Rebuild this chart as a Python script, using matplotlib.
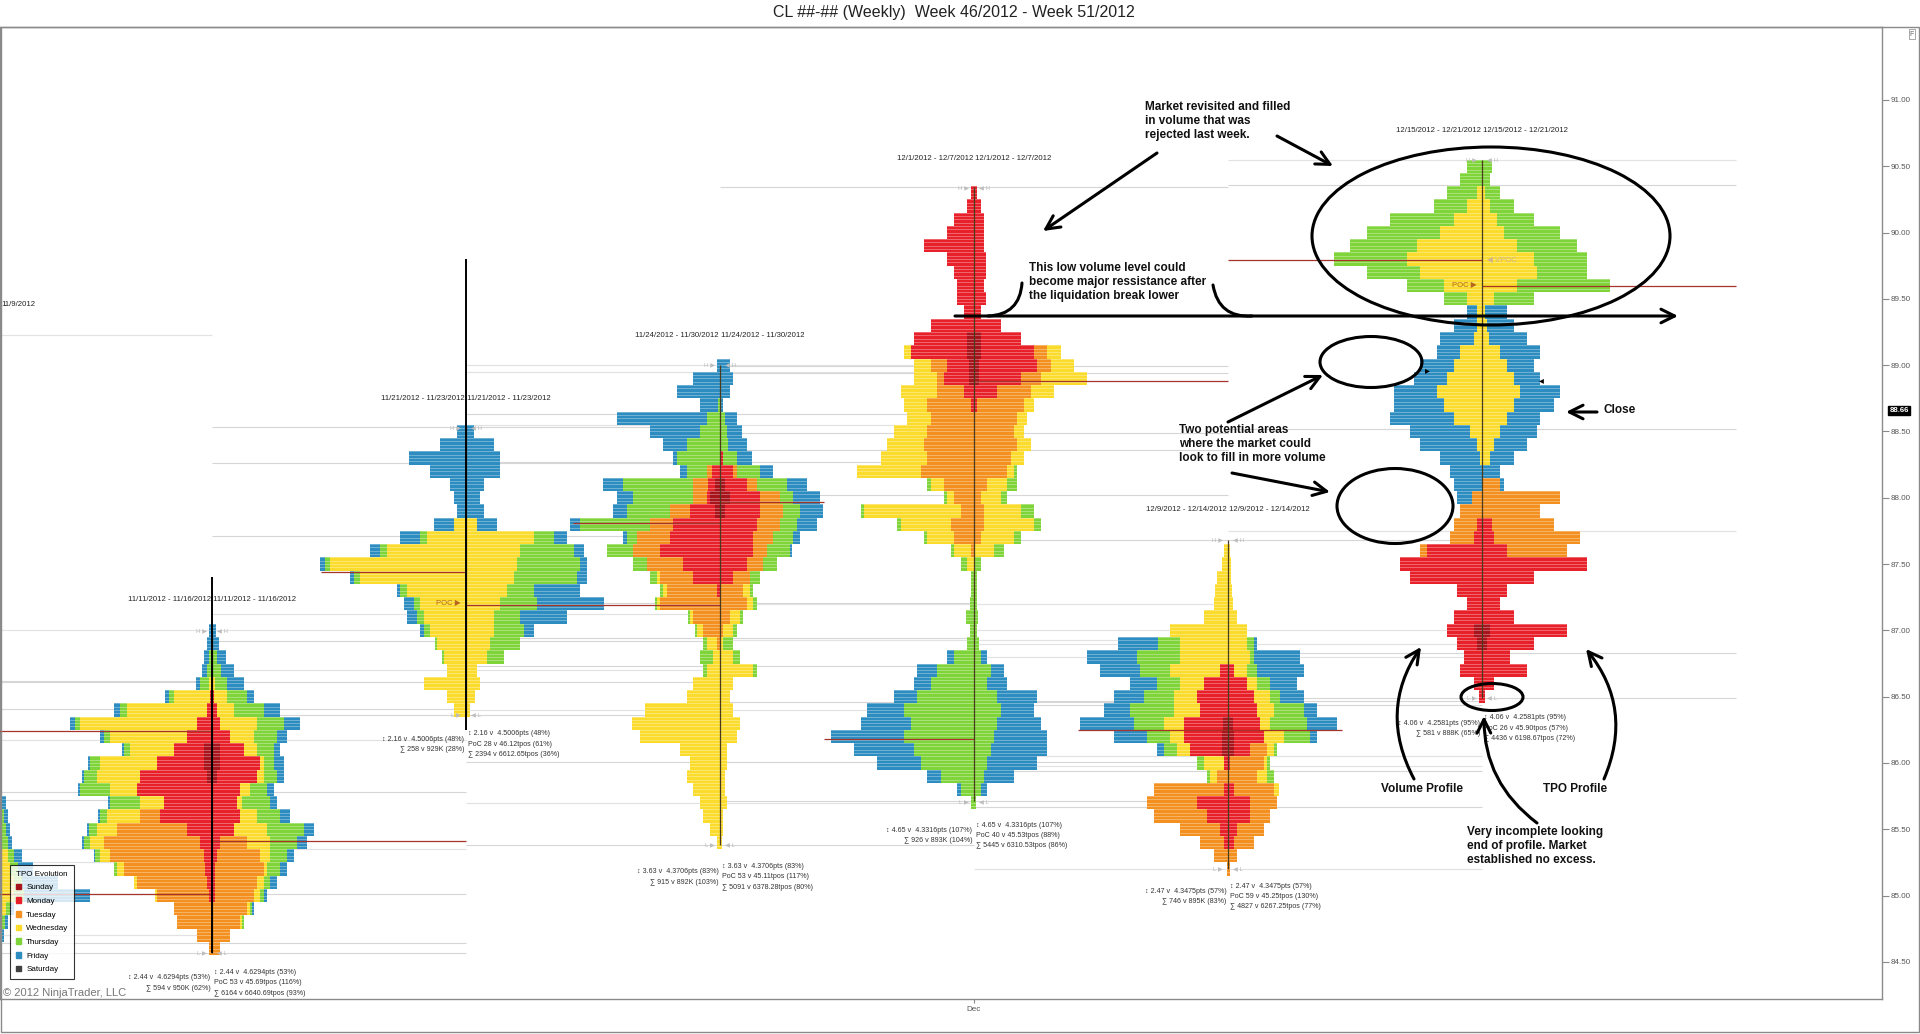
import numpy as np
import matplotlib
matplotlib.use('Agg')
import matplotlib.pyplot as plt
from matplotlib.patches import Patch, Ellipse, Rectangle
from matplotlib.transforms import blended_transform_factory

plt.rcParams['font.family'] = ['Liberation Sans', 'DejaVu Sans']

title = 'CL ##-## (Weekly)  Week 46/2012 - Week 51/2012'
day_names = ['Sunday', 'Monday', 'Tuesday', 'Wednesday', 'Thursday', 'Friday', 'Saturday']
day_colors = ['#a8141c', '#e8202a', '#f39020', '#fbdc2c', '#7fd43a', '#2d8dc0', '#404040']

price_ticks = [84.5, 85.0, 85.5, 86.0, 86.5, 87.0, 87.5, 88.0, 88.5, 89.0, 89.5, 90.0, 90.5, 91.0]
last_price = 88.66
px_per_week = 254   # profile widths in pixels

# weekly profiles: one row per 0.10, top row first
# each row = cumulative width Sunday..Friday, volume side (left) and TPO side (right)
p0_top = 85.7
p0_tpo = [(0,0,0,0,44,48), (0,0,0,0,46,50), (0,0,0,44,48,52), (0,0,0,44,50,54),
          (0,0,0,50,56,64), (0,0,0,52,60,75), (0,0,0,56,64,100), (0,0,0,56,66,132),
          (0,0,0,48,52,56), (0,0,0,44,47,50), (0,0,0,42,44,46)]

p1_top = 87.0
p1_vol = [(0,0,0,0,0,3), (0,0,0,0,0,5), (0,0,0,0,3,8), (0,0,0,0,5,10), (0,0,0,3,12,16),
          (0,2,2,38,43,47), (0,5,5,85,92,98), (0,15,15,132,137,142), (0,25,25,102,108,112),
          (8,38,38,82,88,90), (8,55,55,112,122,124), (5,72,72,115,128,130), (0,75,75,102,132,134),
          (0,48,48,72,102,104), (0,52,72,105,112,114), (0,25,95,115,123,125), (0,12,108,122,128,130),
          (0,8,102,112,117,118), (0,7,88,95,98,98), (0,5,75,78,78,78), (0,3,55,57,57,57),
          (0,0,38,38,38,38), (0,0,35,35,35,35), (0,0,15,15,15,15), (0,0,3,3,3,3)]
p1_tpo = [(0,0,0,0,0,4), (0,0,0,0,0,7), (0,0,0,0,5,14), (0,0,0,0,9,22), (0,0,0,3,15,32),
          (0,2,2,15,35,42), (0,5,5,22,52,68), (0,8,8,45,72,88), (0,18,18,42,65,75),
          (8,32,32,45,62,68), (8,48,48,52,62,72), (5,45,45,52,65,72), (0,28,28,38,55,62),
          (0,25,25,30,58,65), (0,28,28,45,68,78), (0,22,22,55,92,102), (0,8,35,58,85,95),
          (0,5,48,58,75,82), (0,3,52,55,68,75), (0,3,45,52,58,65), (0,3,42,48,52,55),
          (0,0,35,38,40,42), (0,0,28,30,32,32), (0,0,18,18,18,18), (0,0,8,8,8,8)]

p2_top = 88.5
p2_vol = [(0,0,0,0,0,9), (0,0,0,0,0,26), (0,0,0,0,0,57), (0,0,0,0,0,36), (0,0,0,0,0,16),
          (0,0,0,0,0,12), (0,0,0,0,0,9), (0,0,0,12,12,32), (0,0,0,39,46,66), (0,0,0,79,86,96),
          (0,0,0,136,141,146), (0,0,0,106,112,116), (0,0,0,59,66,69), (0,0,0,46,52,62),
          (0,0,0,42,49,59), (0,0,0,36,42,46), (0,0,0,29,31,31), (0,0,0,22,24,24),
          (0,0,0,19,19,19), (0,0,0,42,42,42), (0,0,0,19,19,19), (0,0,0,12,12,12)]
p2_tpo = [(0,0,0,0,0,8), (0,0,0,0,0,28), (0,0,0,0,0,34), (0,0,0,0,0,34), (0,0,0,0,0,18),
          (0,0,0,0,0,14), (0,0,0,0,0,18), (0,0,0,11,11,31), (0,0,0,68,88,101), (0,0,0,54,108,118),
          (0,0,0,51,114,121), (0,0,0,48,111,121), (0,0,0,41,68,114), (0,0,0,34,71,138),
          (0,0,0,28,54,101), (0,0,0,28,58,68), (0,0,0,24,54,54), (0,0,0,21,38,38),
          (0,0,0,11,11,11), (0,0,0,14,14,14), (0,0,0,9,9,9), (0,0,0,4,4,4)]

p3_top = 89.0
p3_vol = [(0,0,0,0,0,3), (0,0,0,0,0,27), (0,0,0,0,0,43), (0,0,0,0,2,20), (0,0,0,0,13,103),
          (0,0,0,0,20,70), (0,0,0,0,33,57), (0,0,0,0,43,47), (0,8,13,13,33,40),
          (5,12,27,27,97,117), (10,13,27,27,87,103), (5,30,50,50,93,107), (0,47,70,70,140,150),
          (0,50,83,83,93,97), (0,60,87,87,113,113), (0,37,73,73,87,87), (0,27,60,63,70,70),
          (0,3,53,57,60,60), (0,0,60,63,65,65), (0,0,27,30,32,32), (0,0,17,23,25,25),
          (0,0,3,13,17,17), (0,0,0,7,20,20), (0,0,0,13,17,17), (0,0,0,27,27,27),
          (0,0,0,33,33,33), (0,0,0,75,75,75), (0,0,0,88,88,88), (0,0,0,80,80,80),
          (0,0,0,40,40,40), (0,0,0,30,30,30), (0,0,0,33,33,33), (0,0,0,27,27,27),
          (0,0,0,20,20,20), (0,0,0,17,17,17), (0,0,0,10,10,10), (0,0,0,3,3,3)]
p3_tpo = [(0,0,0,0,0,10), (0,0,0,0,0,13), (0,0,0,0,0,10), (0,0,0,0,0,3), (0,0,0,0,5,17),
          (0,0,0,0,7,22), (0,0,0,0,8,27), (0,3,3,3,17,32), (0,13,17,17,40,53),
          (5,27,37,37,67,87), (10,40,60,60,73,100), (5,40,63,63,80,103), (0,37,60,60,77,97),
          (0,33,53,53,73,80), (0,33,47,47,70,72), (0,27,43,43,57,57), (0,13,30,30,40,40),
          (0,0,23,30,33,33), (0,0,27,33,37,37), (0,0,10,20,23,23), (0,0,3,13,17,17),
          (0,0,0,3,13,13), (0,0,0,13,20,20), (0,0,0,33,37,37), (0,0,0,13,13,13),
          (0,0,0,10,10,10), (0,0,0,13,13,13), (0,0,0,20,20,20), (0,0,0,17,17,17),
          (0,0,0,7,7,7), (0,0,0,7,7,7), (0,0,0,5,5,5), (0,0,0,5,5,5),
          (0,0,0,7,7,7), (0,0,0,3,3,3), (0,0,0,3,3,3), (0,0,0,2,2,2)]

p4_top = 90.3
p4_vol = [(0,3,3,3,3,3), (0,7,7,7,7,7), (0,20,20,20,20,20), (0,27,27,27,27,27), (0,50,50,50,50,50),
          (0,27,27,27,27,27), (0,20,20,20,20,20), (0,17,17,17,17,17), (0,17,17,17,17,17),
          (0,10,10,10,10,10), (0,43,43,43,43,43), (7,60,60,60,60,60), (7,63,63,70,70,70),
          (5,27,43,60,60,60), (5,30,37,60,60,60), (0,10,37,73,73,73), (0,3,47,70,70,70),
          (0,0,43,67,67,67), (0,0,47,80,80,80), (0,0,50,87,87,87), (0,0,47,93,93,93),
          (0,0,53,117,117,117), (0,0,30,43,47,47), (0,0,20,27,30,30), (0,0,13,110,113,113),
          (0,0,23,73,77,77), (0,0,20,47,50,50), (0,0,3,20,23,23), (0,0,0,7,13,13),
          (0,0,0,0,3,3), (0,0,0,0,3,3), (0,0,0,0,4,4), (0,0,0,0,8,8), (0,0,0,0,4,4),
          (0,0,0,0,7,7), (0,0,0,0,20,27), (0,0,0,0,37,57), (0,0,0,0,43,60), (0,0,0,0,57,80),
          (0,0,0,0,70,107), (0,0,0,0,63,113), (0,0,0,0,70,143), (0,0,0,0,60,120),
          (0,0,0,0,53,97), (0,0,0,0,33,47), (0,0,0,0,13,17), (0,0,0,0,3,3)]
p4_tpo = [(0,3,3,3,3,3), (0,7,7,7,7,7), (0,10,10,10,10,10), (0,10,10,10,10,10), (0,10,10,10,10,10),
          (0,12,12,12,12,12), (0,12,12,12,12,12), (0,10,10,10,10,10), (0,12,12,12,12,12),
          (0,7,7,7,7,7), (0,27,27,27,27,27), (7,47,47,47,47,47), (7,60,73,87,87,87),
          (5,63,77,100,100,100), (5,47,67,113,113,113), (0,23,57,80,80,80), (0,3,50,60,60,60),
          (0,0,43,53,53,53), (0,0,40,50,50,50), (0,0,43,57,57,57), (0,0,37,50,50,50),
          (0,0,33,40,43,43), (0,0,13,33,43,43), (0,0,7,27,33,33), (0,0,10,47,60,60),
          (0,0,10,60,67,67), (0,0,7,40,47,47), (0,0,0,20,30,30), (0,0,0,0,7,7),
          (0,0,0,0,3,3), (0,0,0,0,3,3), (0,0,0,0,3,3), (0,0,0,0,4,4), (0,0,0,0,3,3),
          (0,0,0,0,5,5), (0,0,0,0,7,13), (0,0,0,0,17,30), (0,0,0,0,13,33), (0,0,0,0,23,63),
          (0,0,0,0,27,60), (0,0,0,0,23,67), (0,0,0,0,20,73), (0,0,0,0,17,73),
          (0,0,0,0,13,63), (0,0,0,0,10,40), (0,0,0,0,7,13), (0,0,0,0,2,2)]

p5_top = 87.6
p5_vol = [(0,0,0,4,4,4), (0,0,0,6,6,6), (0,0,0,11,11,11), (0,0,0,13,13,13), (0,0,0,14,14,14),
          (0,0,0,24,24,24), (0,0,0,58,58,58), (0,0,0,48,70,110), (0,0,0,48,91,141),
          (0,8,8,58,88,128), (0,24,24,48,71,98), (0,31,31,54,84,114), (0,28,28,54,98,124),
          (5,44,44,64,94,148), (6,44,44,58,81,114), (6,38,38,51,64,71), (0,4,4,24,31,31),
          (0,0,11,18,21,21), (0,4,74,74,74,74), (0,31,81,81,81,81), (0,21,74,74,74,74),
          (0,8,48,48,48,48), (0,4,28,28,28,28), (0,0,14,14,14,14), (0,0,1,1,1,1)]
p5_tpo = [(0,0,0,2,2,2), (0,0,0,3,3,3), (0,0,0,3,3,3), (0,0,0,4,4,4), (0,0,0,5,5,5),
          (0,0,0,9,9,9), (0,0,0,19,19,19), (0,0,0,19,26,29), (0,0,0,22,26,72),
          (0,6,6,19,29,76), (0,19,19,29,42,69), (0,26,26,42,52,76), (0,29,29,46,76,89),
          (5,32,32,42,79,109), (6,36,36,56,82,89), (6,22,39,46,49,49), (0,2,36,39,42,42),
          (0,0,29,39,46,46), (0,6,46,51,51,51), (0,22,49,49,49,49), (0,22,42,42,42,42),
          (0,9,36,36,36,36), (0,6,26,26,26,26), (0,0,9,9,9,9), (0,0,2,2,2,2)]

p6_top = 90.5
p6_vol = [(0,0,0,0,15,15), (0,0,0,0,22,22), (0,0,0,5,35,35), (0,0,0,15,48,48), (0,0,0,28,92,92),
          (0,0,0,42,115,115), (0,0,0,65,132,132), (0,0,0,75,148,148), (0,0,0,62,115,115),
          (0,0,0,38,75,75), (0,0,0,15,38,38), (0,0,0,5,5,15), (0,0,0,5,5,28), (0,0,0,8,8,42),
          (0,0,0,22,22,45), (0,0,0,28,28,62), (0,0,0,35,35,68), (0,0,0,45,45,88),
          (0,0,0,38,38,88), (0,0,0,28,28,92), (0,0,0,12,12,72), (0,0,0,5,5,62),
          (0,0,0,2,2,42), (0,0,0,0,0,32), (0,0,0,0,0,28), (0,0,10,10,10,25),
          (0,0,22,22,22,22), (0,5,28,28,28,28), (0,8,32,32,32,32), (0,55,62,62,62,62),
          (0,82,82,82,82,82), (0,72,72,72,72,72), (0,25,25,25,25,25), (0,15,15,15,15,15),
          (0,28,28,28,28,28), (8,35,35,35,35,35), (5,25,25,25,25,25), (0,18,18,18,18,18),
          (0,22,22,22,22,22), (0,8,8,8,8,8), (0,3,3,3,3,3)]
p6_tpo = [(0,0,0,0,10,10), (0,0,0,0,8,8), (0,0,0,3,18,18), (0,0,0,8,32,32), (0,0,0,15,52,52),
          (0,0,0,22,78,78), (0,0,0,35,95,95), (0,0,0,52,105,105), (0,0,0,55,105,105),
          (0,0,0,35,128,128), (0,0,0,12,52,52), (0,0,0,3,3,25), (0,0,0,5,5,32), (0,0,0,7,7,45),
          (0,0,0,18,18,58), (0,0,0,25,25,52), (0,0,0,32,32,58), (0,0,0,38,38,78),
          (0,0,0,32,32,72), (0,0,0,25,25,58), (0,0,0,18,18,55), (0,0,0,12,12,45),
          (0,0,0,8,8,32), (0,0,0,0,0,18), (0,0,18,18,18,22), (0,0,78,78,78,78),
          (0,0,58,58,58,58), (0,10,72,72,72,72), (0,12,98,98,98,98), (0,25,85,85,85,85),
          (0,105,105,105,105,105), (0,52,52,52,52,52), (0,25,25,25,25,25), (0,18,18,18,18,18),
          (0,32,32,32,32,32), (8,85,85,85,85,85), (5,52,52,52,52,52), (0,28,28,28,28,28),
          (0,45,45,45,45,45), (0,12,12,12,12,12), (0,3,3,3,3,3)]

# week slots (11/4 week is -1, only its right edge is on screen)
centers = [-1, 0, 1, 2, 3, 4, 5]
tops = [p0_top, p1_top, p2_top, p3_top, p4_top, p5_top, p6_top]
vols = [None, p1_vol, p2_vol, p3_vol, p4_vol, p5_vol, p6_vol]
tpos = [p0_tpo, p1_tpo, p2_tpo, p3_tpo, p4_tpo, p5_tpo, p6_tpo]
highs = [89.23, 87.00, 88.53, 89.00, 90.34, 87.68, 90.55]
lows = [84.70, 84.57, 86.36, 85.38, 85.71, 85.20, 86.49]
bar_tops = [None, 87.40, 89.80, None, None, None, None]
bar_lows = [None, 84.57, 86.25, None, None, None, None]

ranges = ['11/9/2012', '11/11/2012 - 11/16/2012', '11/21/2012 - 11/23/2012',
          '11/24/2012 - 11/30/2012', '12/1/2012 - 12/7/2012', '12/9/2012 - 12/14/2012',
          '12/15/2012 - 12/21/2012']
range_y = [89.46, 87.23, 88.75, 89.22, 90.56, 87.91, 90.77]

levels = [
    [89.23, 86.62, 85.72, 85.25, 84.70],
    [87.00, 86.61, 86.41, 86.17, 85.78, 85.35, 85.01, 84.64, 84.57],
    [88.53, 88.26, 87.71, 87.12, 86.92, 86.70, 86.61, 86.36],
    [89.00, 88.95, 88.63, 88.55, 88.27, 87.21, 86.94, 86.73, 86.40, 86.01, 85.70, 85.38],
    [90.34, 88.99, 88.94, 88.49, 88.36, 88.02, 87.20, 86.93, 86.46, 86.01, 85.71],
    [87.68, 87.00, 86.90, 86.80, 86.47, 86.44, 86.05, 85.98, 85.94, 85.67, 85.20],
    [90.55, 90.36, 88.52, 87.75, 86.83, 86.49],
]
# (price, from week, to week)
poc_lines = [(85.01, -1, 0), (86.24, -1, 0), (85.41, 0, 1), (87.44, 0.43, 1), (87.19, 1, 2),
             (87.81, 1.42, 2), (87.97, 2, 2.41), (86.18, 2.41, 3), (88.88, 3, 4),
             (86.25, 3.41, 4), (86.25, 4, 4.45), (89.79, 4, 5), (89.60, 5, 6)]

stats_left = [
    None,
    ['↕ 2.44 v  4.6294pts (53%)', '∑ 594 v 950K (62%)'],
    ['↕ 2.16 v  4.5006pts (48%)', '∑ 258 v 929K (28%)'],
    ['↕ 3.63 v  4.3706pts (83%)', '∑ 915 v 892K (103%)'],
    ['↕ 4.65 v  4.3316pts (107%)', '∑ 926 v 893K (104%)'],
    ['↕ 2.47 v  4.3475pts (57%)', '∑ 746 v 895K (83%)'],
    ['↕ 4.06 v  4.2581pts (95%)', '∑ 581 v 888K (65%)'],
]
stats_right = [
    None,
    ['↕ 2.44 v  4.6294pts (53%)', 'PoC 53 v 45.69tpos (116%)', '∑ 6164 v 6640.69tpos (93%)'],
    ['↕ 2.16 v  4.5006pts (48%)', 'PoC 28 v 46.12tpos (61%)', '∑ 2394 v 6612.65tpos (36%)'],
    ['↕ 3.63 v  4.3706pts (83%)', 'PoC 53 v 45.11tpos (117%)', '∑ 5091 v 6378.28tpos (80%)'],
    ['↕ 4.65 v  4.3316pts (107%)', 'PoC 40 v 45.53tpos (88%)', '∑ 5445 v 6310.53tpos (86%)'],
    ['↕ 2.47 v  4.3475pts (57%)', 'PoC 59 v 45.25tpos (130%)', '∑ 4827 v 6267.25tpos (77%)'],
    ['↕ 4.06 v  4.2581pts (95%)', 'PoC 26 v 45.90tpos (57%)', '∑ 4436 v 6198.67tpos (72%)'],
]
stats_y = [None, 84.42, 86.22, 85.22, 85.53, 85.07, 86.34]


fig = plt.figure(figsize=(19.2, 10.34), dpi=100)
ax = fig.add_axes([0, 1 - 999 / 1034, 1882 / 1920, 972 / 1034])
ax.set_xlim(-212 / px_per_week, (1882 - 212) / px_per_week)
ax.set_ylim(84.22, 91.55)


def draw_side(c, top, rows, side):
    cum = np.array(rows, float)
    prices = top - 0.1 * np.arange(len(cum))
    prev = np.zeros(len(cum))
    for d in range(6):
        w = np.maximum(cum[:, d] - prev, 0)
        ax.barh(prices, side * w / px_per_week, left=c + side * prev / px_per_week,
                height=0.1, color=day_colors[d], lw=0, zorder=2)
        prev = prev + w


for i, c in enumerate(centers):
    ax.hlines(levels[i], c - 1, c + 1, colors='#d6d6d6', lw=0.8, zorder=1)
    if vols[i] is not None:
        draw_side(c, tops[i], vols[i], -1)
    draw_side(c, tops[i], tpos[i], 1)
    if i == 0:
        # only the tail of the first week's header is on screen
        ax.text(0.0005, range_y[i], ranges[i], transform=blended_transform_factory(ax.transAxes, ax.transData),
                ha='left', va='center', fontsize=5.6, color='#222222')
        continue
    ax.vlines(c, lows[i], highs[i], colors='#4a3b1e', lw=0.9, zorder=4)
    if bar_tops[i] is not None:
        ax.vlines(c, bar_lows[i], bar_tops[i], colors='black', lw=1.4, zorder=4)
    ax.text(c - 0.004, range_y[i], ranges[i], ha='right', va='center', fontsize=5.6,
            color='#222222')
    ax.text(c + 0.004, range_y[i], ranges[i], ha='left', va='center', fontsize=5.6,
            color='#222222')
    for lvl, tag in ((highs[i], 'H'), (lows[i], 'L')):
        ax.text(c - 0.02, lvl, tag + ' ▶', ha='right', va='center', fontsize=4.5,
                color='#bdbdbd', zorder=5)
        ax.text(c + 0.02, lvl, '◀ ' + tag, ha='left', va='center', fontsize=4.5,
                color='#bdbdbd', zorder=5)
    for k, s in enumerate(stats_right[i]):
        ax.text(c + 0.006, stats_y[i] - 0.078 * k, s, ha='left', va='center',
                fontsize=5.1, color='#333333')
    for k, s in enumerate(stats_left[i]):
        ax.text(c - 0.006, stats_y[i] - 0.04 - 0.078 * k, s, ha='right', va='center',
                fontsize=5.1, color='#333333')

# thin row stripes like the platform draws them
ax.hlines(np.arange(84.2, 91.6, 0.025), -1, 7, colors='white', lw=0.5, alpha=0.45, zorder=2.5)

for p, x0, x1 in poc_lines:
    ax.hlines(p, x0, x1, colors='#a5352a', lw=0.9, zorder=3)

ax.text(1 - 0.02, 87.20, 'POC ▶', ha='right', va='center', fontsize=5.5, color='#b5651d', zorder=5)
ax.text(5 - 0.02, 89.60, 'POC ▶', ha='right', va='center', fontsize=5.5, color='#b5651d', zorder=5)
ax.text(5 + 0.02, 89.79, '◀ VPOC', ha='left', va='center', fontsize=5.5, color='#d2b48c', zorder=5)

# axes look
for s in ax.spines.values():
    s.set_color('#8a8a8a')
    s.set_linewidth(1)
ax.yaxis.tick_right()
ax.set_yticks(price_ticks)
ax.set_yticklabels([f'{t:.2f}' for t in price_ticks])
ax.tick_params(axis='y', direction='out', length=5, width=0.8, colors='#8a8a8a',
               labelcolor='#555555', labelsize=5.8, pad=1)
ax.set_xticks([3])
ax.set_xticklabels(['Dec'])
ax.tick_params(axis='x', direction='out', length=3, colors='#8a8a8a', labelcolor='#555555',
               labelsize=5.8, pad=2)

tr = blended_transform_factory(ax.transAxes, ax.transData)
ax.text(1.004, last_price, f'{last_price:.2f}', transform=tr, ha='left', va='center',
        fontsize=5.6, color='white', fontweight='bold',
        bbox=dict(boxstyle='square,pad=0.15', fc='black', ec='black'))

leg = fig.legend(handles=[Patch(color=col, label=n) for n, col in zip(day_names, day_colors)],
                 title='TPO Evolution', loc='lower left',
                 bbox_to_anchor=(6 / 1920, 51 / 1034), fontsize=5.8, title_fontsize=5.8,
                 frameon=True, fancybox=False, edgecolor='black', handlelength=0.7,
                 handleheight=0.7, handletextpad=0.6, labelspacing=0.75, borderpad=0.7)
leg.get_frame().set_linewidth(0.8)
leg._legend_box.align = 'left'

fig.text(3 / 1920, 1 - 993 / 1034, '© 2012 NinjaTrader, LLC', ha='left', va='center',
         fontsize=8, color='#777777')
fig.text(0.497, 1 - 13 / 1034, title, ha='center', va='center', fontsize=11.5, color='#222222')
fig.add_artist(Rectangle((0.0005, 0.002), 0.999, 1 - 27 / 1034 - 0.002, transform=fig.transFigure,
                         fill=False, ec='#8a8a8a', lw=1))
fig.text(1912 / 1920, 1 - 34 / 1034, 'F', ha='center', va='center', fontsize=5, color='#666666',
         bbox=dict(boxstyle='square,pad=0.15', fc='white', ec='#999999', lw=0.6))

# hand drawn markup on top, in screen pixels
ov = fig.add_axes([0, 0, 1, 1], zorder=5)
ov.set_xlim(0, 1920)
ov.set_ylim(1034, 0)
ov.axis('off')

note_font = dict(fontsize=8.5, fontweight='bold', color='#111111', va='top', ha='left',
                 linespacing=1.2)
ov.text(1145, 101, 'Market revisited and filled\nin volume that was\nrejected last week.', **note_font)
ov.text(1029, 262, 'This low volume level could\nbecome major ressistance after\nthe liquidation break lower', **note_font)
ov.text(1179, 424, 'Two potential areas\nwhere the market could\nlook to fill in more volume', **note_font)
ov.text(1604, 404, 'Close', **note_font)
ov.text(1381, 783, 'Volume Profile', **note_font)
ov.text(1543, 783, 'TPO Profile', **note_font)
ov.text(1467, 826, 'Very incomplete looking\nend of profile. Market\nestablished no excess.', **note_font)

for cx, cy, w, h in [(1491, 236, 358, 178), (1371, 362, 102, 51), (1395, 506, 116, 75),
                     (1492, 697, 62, 27)]:
    ov.add_patch(Ellipse((cx, cy), w, h, fill=False, ec='black', lw=2.2))


def ink(x0, y0, x1, y1, rad=0.0, head=True):
    style = '->,head_length=0.7,head_width=0.35' if head else '-'
    ov.annotate('', xy=(x1, y1), xytext=(x0, y0),
                arrowprops=dict(arrowstyle=style, lw=2.2, color='black', shrinkA=0, shrinkB=0,
                                connectionstyle=f'arc3,rad={rad}', mutation_scale=14))


ink(955, 316, 1678, 316)
ink(1157, 153, 1043, 231)
ink(1277, 136, 1333, 166)
ink(1022, 283, 988, 316, rad=-0.45, head=False)
ink(1213, 285, 1252, 316, rad=0.45, head=False)
ink(1228, 422, 1323, 375)
ink(1232, 473, 1330, 492)
ink(1597, 412, 1566, 412)
ink(1414, 779, 1421, 647, rad=-0.3)
ink(1604, 779, 1586, 649, rad=0.3)
ink(1537, 823, 1484, 716, rad=-0.25)
ov.text(1427, 370, '▸', fontsize=7, ha='center', va='center')
ov.text(1541, 380, '◂', fontsize=7, ha='center', va='center')

fig.savefig('out.png', dpi=100, facecolor='white')
